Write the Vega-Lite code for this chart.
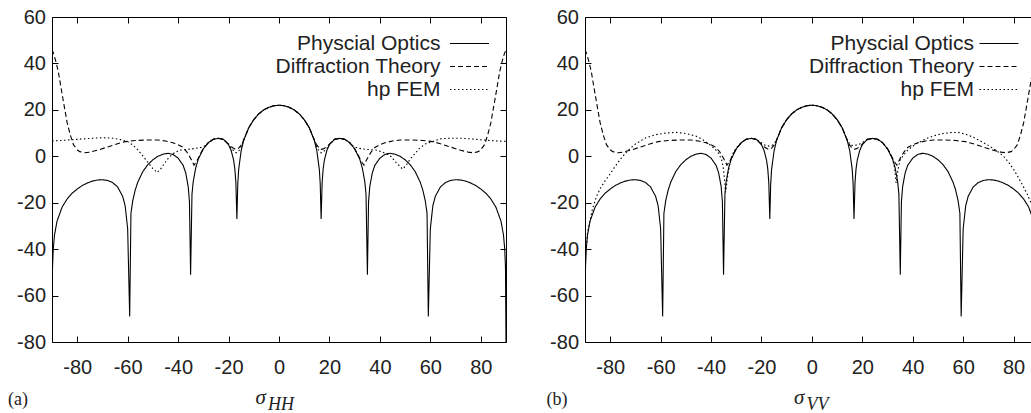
{
  "$schema": "https://vega.github.io/schema/vega-lite/v6.json",
  "padding": {"left": 7, "top": 7, "right": 0, "bottom": 0},
  "background": "white",
  "spacing": 39,
  "config": {
    "view": {"stroke": null},
    "axis": {"grid": false, "domainColor": "#000", "tickColor": "#000", "domainWidth": 1, "tickWidth": 1, "labelFont": "Liberation Sans", "labelFontSize": 20, "labelColor": "#222"}
  },
  "resolve": {"scale": {"strokeDash": "independent"}, "legend": {"strokeDash": "independent"}},
  "datasets": {
    "po": [
      {"series":"Physcial Optics","angle":-90,"level":-80},{"series":"Physcial Optics","angle":-89.8,"level":-48},{"series":"Physcial Optics","angle":-89.5,"level":-40},{"series":"Physcial Optics","angle":-89,"level":-33.9},{"series":"Physcial Optics","angle":-88,"level":-27.9},{"series":"Physcial Optics","angle":-86,"level":-21.9},{"series":"Physcial Optics","angle":-84,"level":-18.4},{"series":"Physcial Optics","angle":-82,"level":-15.9},{"series":"Physcial Optics","angle":-80,"level":-14.1},{"series":"Physcial Optics","angle":-78,"level":-12.6},{"series":"Physcial Optics","angle":-76,"level":-11.5},{"series":"Physcial Optics","angle":-74,"level":-10.7},{"series":"Physcial Optics","angle":-72,"level":-10.2},{"series":"Physcial Optics","angle":-70,"level":-10.1},{"series":"Physcial Optics","angle":-68,"level":-10.4},{"series":"Physcial Optics","angle":-66,"level":-11.3},{"series":"Physcial Optics","angle":-64,"level":-13.2},{"series":"Physcial Optics","angle":-62,"level":-17.2},{"series":"Physcial Optics","angle":-61,"level":-21.3},{"series":"Physcial Optics","angle":-60,"level":-31.2},{"series":"Physcial Optics","angle":-59.2,"level":-69},{"series":"Physcial Optics","angle":-58.7,"level":-24.6},{"series":"Physcial Optics","angle":-58,"level":-19.2},{"series":"Physcial Optics","angle":-57,"level":-14.5},{"series":"Physcial Optics","angle":-56,"level":-11.2},{"series":"Physcial Optics","angle":-54,"level":-6.6},{"series":"Physcial Optics","angle":-52,"level":-3.6},{"series":"Physcial Optics","angle":-50,"level":-1.5},{"series":"Physcial Optics","angle":-48,"level":0.0},{"series":"Physcial Optics","angle":-46,"level":0.9},{"series":"Physcial Optics","angle":-44,"level":1.3},{"series":"Physcial Optics","angle":-42,"level":0.8},{"series":"Physcial Optics","angle":-40,"level":-0.8},{"series":"Physcial Optics","angle":-38,"level":-3.9},{"series":"Physcial Optics","angle":-37,"level":-7.1},{"series":"Physcial Optics","angle":-36,"level":-13.0},{"series":"Physcial Optics","angle":-35.5,"level":-19.7},{"series":"Physcial Optics","angle":-35.05,"level":-51},{"series":"Physcial Optics","angle":-34.5,"level":-16.3},{"series":"Physcial Optics","angle":-34,"level":-10.8},{"series":"Physcial Optics","angle":-33,"level":-4.9},{"series":"Physcial Optics","angle":-32,"level":-1.2},{"series":"Physcial Optics","angle":-30,"level":3.2},{"series":"Physcial Optics","angle":-28,"level":5.9},{"series":"Physcial Optics","angle":-26,"level":7.4},{"series":"Physcial Optics","angle":-24,"level":7.7},{"series":"Physcial Optics","angle":-22,"level":7.3},{"series":"Physcial Optics","angle":-20,"level":5.0},{"series":"Physcial Optics","angle":-19,"level":2.6},{"series":"Physcial Optics","angle":-18,"level":-1.6},{"series":"Physcial Optics","angle":-17.5,"level":-5.5},{"series":"Physcial Optics","angle":-17.1,"level":-11.3},{"series":"Physcial Optics","angle":-16.7,"level":-27},{"series":"Physcial Optics","angle":-16.35,"level":-12.0},{"series":"Physcial Optics","angle":-16,"level":-5.8},{"series":"Physcial Optics","angle":-15,"level":2.4},{"series":"Physcial Optics","angle":-14,"level":6.9},{"series":"Physcial Optics","angle":-12,"level":12.3},{"series":"Physcial Optics","angle":-10,"level":15.8},{"series":"Physcial Optics","angle":-8,"level":18.3},{"series":"Physcial Optics","angle":-6,"level":20.0},{"series":"Physcial Optics","angle":-4,"level":21.1},{"series":"Physcial Optics","angle":-2,"level":21.8},{"series":"Physcial Optics","angle":0,"level":22.0},{"series":"Physcial Optics","angle":2,"level":21.8},{"series":"Physcial Optics","angle":4,"level":21.1},{"series":"Physcial Optics","angle":6,"level":20.0},{"series":"Physcial Optics","angle":8,"level":18.3},{"series":"Physcial Optics","angle":10,"level":15.8},{"series":"Physcial Optics","angle":12,"level":12.3},{"series":"Physcial Optics","angle":14,"level":6.9},{"series":"Physcial Optics","angle":15,"level":2.4},{"series":"Physcial Optics","angle":16,"level":-5.8},{"series":"Physcial Optics","angle":16.35,"level":-12.0},{"series":"Physcial Optics","angle":16.7,"level":-27},{"series":"Physcial Optics","angle":17.1,"level":-11.3},{"series":"Physcial Optics","angle":17.5,"level":-5.5},{"series":"Physcial Optics","angle":18,"level":-1.6},{"series":"Physcial Optics","angle":19,"level":2.6},{"series":"Physcial Optics","angle":20,"level":5.0},{"series":"Physcial Optics","angle":22,"level":7.3},{"series":"Physcial Optics","angle":24,"level":7.7},{"series":"Physcial Optics","angle":26,"level":7.4},{"series":"Physcial Optics","angle":28,"level":5.9},{"series":"Physcial Optics","angle":30,"level":3.2},{"series":"Physcial Optics","angle":32,"level":-1.2},{"series":"Physcial Optics","angle":33,"level":-4.9},{"series":"Physcial Optics","angle":34,"level":-10.8},{"series":"Physcial Optics","angle":34.5,"level":-16.3},{"series":"Physcial Optics","angle":35.05,"level":-51},{"series":"Physcial Optics","angle":35.5,"level":-19.7},{"series":"Physcial Optics","angle":36,"level":-13.0},{"series":"Physcial Optics","angle":37,"level":-7.1},{"series":"Physcial Optics","angle":38,"level":-3.9},{"series":"Physcial Optics","angle":40,"level":-0.8},{"series":"Physcial Optics","angle":42,"level":0.8},{"series":"Physcial Optics","angle":44,"level":1.3},{"series":"Physcial Optics","angle":46,"level":0.9},{"series":"Physcial Optics","angle":48,"level":0.0},{"series":"Physcial Optics","angle":50,"level":-1.5},{"series":"Physcial Optics","angle":52,"level":-3.6},{"series":"Physcial Optics","angle":54,"level":-6.6},{"series":"Physcial Optics","angle":56,"level":-11.2},{"series":"Physcial Optics","angle":57,"level":-14.5},{"series":"Physcial Optics","angle":58,"level":-19.2},{"series":"Physcial Optics","angle":58.7,"level":-24.6},{"series":"Physcial Optics","angle":59.2,"level":-69},{"series":"Physcial Optics","angle":60,"level":-31.2},{"series":"Physcial Optics","angle":61,"level":-21.3},{"series":"Physcial Optics","angle":62,"level":-17.2},{"series":"Physcial Optics","angle":64,"level":-13.2},{"series":"Physcial Optics","angle":66,"level":-11.3},{"series":"Physcial Optics","angle":68,"level":-10.4},{"series":"Physcial Optics","angle":70,"level":-10.1},{"series":"Physcial Optics","angle":72,"level":-10.2},{"series":"Physcial Optics","angle":74,"level":-10.7},{"series":"Physcial Optics","angle":76,"level":-11.5},{"series":"Physcial Optics","angle":78,"level":-12.6},{"series":"Physcial Optics","angle":80,"level":-14.1},{"series":"Physcial Optics","angle":82,"level":-15.9},{"series":"Physcial Optics","angle":84,"level":-18.4},{"series":"Physcial Optics","angle":86,"level":-21.9},{"series":"Physcial Optics","angle":88,"level":-27.9},{"series":"Physcial Optics","angle":89,"level":-33.9},{"series":"Physcial Optics","angle":89.5,"level":-40},{"series":"Physcial Optics","angle":89.8,"level":-48},{"series":"Physcial Optics","angle":90,"level":-80}
    ],
    "dt": [
      {"series":"Diffraction Theory","angle":-90,"level":46.0},{"series":"Diffraction Theory","angle":-89.3,"level":44.0},{"series":"Diffraction Theory","angle":-88.5,"level":41.0},{"series":"Diffraction Theory","angle":-87.5,"level":36.5},{"series":"Diffraction Theory","angle":-86.5,"level":30.0},{"series":"Diffraction Theory","angle":-85.3,"level":22.5},{"series":"Diffraction Theory","angle":-84,"level":14.5},{"series":"Diffraction Theory","angle":-82.7,"level":9.0},{"series":"Diffraction Theory","angle":-81.5,"level":5.0},{"series":"Diffraction Theory","angle":-80,"level":2.8},{"series":"Diffraction Theory","angle":-79,"level":2.0},{"series":"Diffraction Theory","angle":-77,"level":1.5},{"series":"Diffraction Theory","angle":-75,"level":1.8},{"series":"Diffraction Theory","angle":-72,"level":2.6},{"series":"Diffraction Theory","angle":-68,"level":4.0},{"series":"Diffraction Theory","angle":-64,"level":5.4},{"series":"Diffraction Theory","angle":-61,"level":6.3},{"series":"Diffraction Theory","angle":-57,"level":6.8},{"series":"Diffraction Theory","angle":-53,"level":7.0},{"series":"Diffraction Theory","angle":-48,"level":7.0},{"series":"Diffraction Theory","angle":-45,"level":6.6},{"series":"Diffraction Theory","angle":-42,"level":5.8},{"series":"Diffraction Theory","angle":-40,"level":5.0},{"series":"Diffraction Theory","angle":-38,"level":3.8},{"series":"Diffraction Theory","angle":-36.5,"level":1.8},{"series":"Diffraction Theory","angle":-35.5,"level":0.0},{"series":"Diffraction Theory","angle":-34.5,"level":-2.0},{"series":"Diffraction Theory","angle":-33.7,"level":-3.8},{"series":"Diffraction Theory","angle":-33,"level":-2.8},{"series":"Diffraction Theory","angle":-32,"level":-0.8},{"series":"Diffraction Theory","angle":-31,"level":1.4},{"series":"Diffraction Theory","angle":-30,"level":3.2},{"series":"Diffraction Theory","angle":-28,"level":5.9},{"series":"Diffraction Theory","angle":-26,"level":7.3},{"series":"Diffraction Theory","angle":-24,"level":7.7},{"series":"Diffraction Theory","angle":-22,"level":7.3},{"series":"Diffraction Theory","angle":-20,"level":5.2},{"series":"Diffraction Theory","angle":-19,"level":4.1},{"series":"Diffraction Theory","angle":-18,"level":3.5},{"series":"Diffraction Theory","angle":-17.5,"level":3.2},{"series":"Diffraction Theory","angle":-16.7,"level":3.0},{"series":"Diffraction Theory","angle":-16,"level":3.5},{"series":"Diffraction Theory","angle":-15,"level":4.8},{"series":"Diffraction Theory","angle":-14,"level":7.0},{"series":"Diffraction Theory","angle":-12,"level":12.3},{"series":"Diffraction Theory","angle":-10,"level":15.8},{"series":"Diffraction Theory","angle":-8,"level":18.3},{"series":"Diffraction Theory","angle":-6,"level":20.0},{"series":"Diffraction Theory","angle":-4,"level":21.1},{"series":"Diffraction Theory","angle":-2,"level":21.8},{"series":"Diffraction Theory","angle":0,"level":22.0},{"series":"Diffraction Theory","angle":2,"level":21.8},{"series":"Diffraction Theory","angle":4,"level":21.1},{"series":"Diffraction Theory","angle":6,"level":20.0},{"series":"Diffraction Theory","angle":8,"level":18.3},{"series":"Diffraction Theory","angle":10,"level":15.8},{"series":"Diffraction Theory","angle":12,"level":12.3},{"series":"Diffraction Theory","angle":14,"level":7.0},{"series":"Diffraction Theory","angle":15,"level":4.8},{"series":"Diffraction Theory","angle":16,"level":3.5},{"series":"Diffraction Theory","angle":16.7,"level":3.0},{"series":"Diffraction Theory","angle":17.5,"level":3.2},{"series":"Diffraction Theory","angle":18,"level":3.5},{"series":"Diffraction Theory","angle":19,"level":4.1},{"series":"Diffraction Theory","angle":20,"level":5.2},{"series":"Diffraction Theory","angle":22,"level":7.3},{"series":"Diffraction Theory","angle":24,"level":7.7},{"series":"Diffraction Theory","angle":26,"level":7.3},{"series":"Diffraction Theory","angle":28,"level":5.9},{"series":"Diffraction Theory","angle":30,"level":3.2},{"series":"Diffraction Theory","angle":31,"level":1.4},{"series":"Diffraction Theory","angle":32,"level":-0.8},{"series":"Diffraction Theory","angle":33,"level":-2.8},{"series":"Diffraction Theory","angle":33.7,"level":-3.8},{"series":"Diffraction Theory","angle":34.5,"level":-2.0},{"series":"Diffraction Theory","angle":35.5,"level":0.0},{"series":"Diffraction Theory","angle":36.5,"level":1.8},{"series":"Diffraction Theory","angle":38,"level":3.8},{"series":"Diffraction Theory","angle":40,"level":5.0},{"series":"Diffraction Theory","angle":42,"level":5.8},{"series":"Diffraction Theory","angle":45,"level":6.6},{"series":"Diffraction Theory","angle":48,"level":7.0},{"series":"Diffraction Theory","angle":53,"level":7.0},{"series":"Diffraction Theory","angle":57,"level":6.8},{"series":"Diffraction Theory","angle":61,"level":6.3},{"series":"Diffraction Theory","angle":64,"level":5.4},{"series":"Diffraction Theory","angle":68,"level":4.0},{"series":"Diffraction Theory","angle":72,"level":2.6},{"series":"Diffraction Theory","angle":75,"level":1.8},{"series":"Diffraction Theory","angle":77,"level":1.5},{"series":"Diffraction Theory","angle":79,"level":2.0},{"series":"Diffraction Theory","angle":80,"level":2.8},{"series":"Diffraction Theory","angle":81.5,"level":5.0},{"series":"Diffraction Theory","angle":82.7,"level":9.0},{"series":"Diffraction Theory","angle":84,"level":14.5},{"series":"Diffraction Theory","angle":85.3,"level":22.5},{"series":"Diffraction Theory","angle":86.5,"level":30.0},{"series":"Diffraction Theory","angle":87.5,"level":36.5},{"series":"Diffraction Theory","angle":88.5,"level":41.0},{"series":"Diffraction Theory","angle":89.3,"level":44.0},{"series":"Diffraction Theory","angle":90,"level":46.0}
    ],
    "fem_hh": [
      {"series":"hp FEM","angle":-90,"level":6.6},{"series":"hp FEM","angle":-85,"level":6.9},{"series":"hp FEM","angle":-80,"level":7.3},{"series":"hp FEM","angle":-75,"level":7.7},{"series":"hp FEM","angle":-70,"level":8.0},{"series":"hp FEM","angle":-66,"level":7.8},{"series":"hp FEM","angle":-63,"level":7.2},{"series":"hp FEM","angle":-60,"level":6.3},{"series":"hp FEM","angle":-58,"level":4.9},{"series":"hp FEM","angle":-56,"level":2.8},{"series":"hp FEM","angle":-54,"level":0.2},{"series":"hp FEM","angle":-52,"level":-2.6},{"series":"hp FEM","angle":-50,"level":-5.3},{"series":"hp FEM","angle":-48.3,"level":-7.0},{"series":"hp FEM","angle":-47,"level":-5.6},{"series":"hp FEM","angle":-45.5,"level":-3.2},{"series":"hp FEM","angle":-43.6,"level":-0.4},{"series":"hp FEM","angle":-41.5,"level":1.5},{"series":"hp FEM","angle":-39.5,"level":2.6},{"series":"hp FEM","angle":-36,"level":3.0},{"series":"hp FEM","angle":-33,"level":3.4},{"series":"hp FEM","angle":-31,"level":3.8},{"series":"hp FEM","angle":-29.5,"level":4.4},{"series":"hp FEM","angle":-28,"level":5.9},{"series":"hp FEM","angle":-26,"level":7.3},{"series":"hp FEM","angle":-24,"level":7.7},{"series":"hp FEM","angle":-22,"level":7.3},{"series":"hp FEM","angle":-20,"level":5.1},{"series":"hp FEM","angle":-19,"level":3.5},{"series":"hp FEM","angle":-18,"level":2.4},{"series":"hp FEM","angle":-17.2,"level":1.6},{"series":"hp FEM","angle":-16.7,"level":1.5},{"series":"hp FEM","angle":-16.2,"level":2.0},{"series":"hp FEM","angle":-15.5,"level":3.0},{"series":"hp FEM","angle":-15,"level":4.0},{"series":"hp FEM","angle":-14,"level":7.0},{"series":"hp FEM","angle":-12,"level":12.3},{"series":"hp FEM","angle":-10,"level":15.8},{"series":"hp FEM","angle":-8,"level":18.3},{"series":"hp FEM","angle":-6,"level":20.0},{"series":"hp FEM","angle":-4,"level":21.1},{"series":"hp FEM","angle":-2,"level":21.8},{"series":"hp FEM","angle":0,"level":22.0},{"series":"hp FEM","angle":2,"level":21.8},{"series":"hp FEM","angle":4,"level":21.1},{"series":"hp FEM","angle":6,"level":20.0},{"series":"hp FEM","angle":8,"level":18.3},{"series":"hp FEM","angle":10,"level":15.8},{"series":"hp FEM","angle":12,"level":12.3},{"series":"hp FEM","angle":14,"level":7.0},{"series":"hp FEM","angle":15,"level":4.0},{"series":"hp FEM","angle":15.5,"level":3.0},{"series":"hp FEM","angle":16.2,"level":2.0},{"series":"hp FEM","angle":16.7,"level":1.5},{"series":"hp FEM","angle":17.2,"level":1.6},{"series":"hp FEM","angle":18,"level":2.4},{"series":"hp FEM","angle":19,"level":3.5},{"series":"hp FEM","angle":20,"level":5.1},{"series":"hp FEM","angle":22,"level":7.3},{"series":"hp FEM","angle":24,"level":7.7},{"series":"hp FEM","angle":26,"level":7.3},{"series":"hp FEM","angle":28,"level":5.9},{"series":"hp FEM","angle":29.5,"level":4.4},{"series":"hp FEM","angle":31,"level":3.6},{"series":"hp FEM","angle":34,"level":3.0},{"series":"hp FEM","angle":38.5,"level":2.7},{"series":"hp FEM","angle":41,"level":1.8},{"series":"hp FEM","angle":43,"level":0.9},{"series":"hp FEM","angle":44.5,"level":-0.2},{"series":"hp FEM","angle":46.5,"level":-2.8},{"series":"hp FEM","angle":49,"level":-5.5},{"series":"hp FEM","angle":50.5,"level":-3.8},{"series":"hp FEM","angle":52,"level":-1.2},{"series":"hp FEM","angle":54,"level":1.3},{"series":"hp FEM","angle":55.7,"level":3.4},{"series":"hp FEM","angle":58,"level":5.3},{"series":"hp FEM","angle":61,"level":6.4},{"series":"hp FEM","angle":64,"level":7.5},{"series":"hp FEM","angle":68,"level":7.8},{"series":"hp FEM","angle":72,"level":7.8},{"series":"hp FEM","angle":76,"level":7.5},{"series":"hp FEM","angle":80,"level":7.1},{"series":"hp FEM","angle":85,"level":6.7},{"series":"hp FEM","angle":90,"level":6.4}
    ],
    "fem_vv": [
      {"series":"hp FEM","angle":-90,"level":-44},{"series":"hp FEM","angle":-89.5,"level":-39},{"series":"hp FEM","angle":-89,"level":-33},{"series":"hp FEM","angle":-88,"level":-27.5},{"series":"hp FEM","angle":-87,"level":-22.5},{"series":"hp FEM","angle":-85.5,"level":-17.5},{"series":"hp FEM","angle":-84,"level":-14},{"series":"hp FEM","angle":-82,"level":-10.5},{"series":"hp FEM","angle":-80,"level":-7.5},{"series":"hp FEM","angle":-78,"level":-4.3},{"series":"hp FEM","angle":-76,"level":-1.3},{"series":"hp FEM","angle":-73,"level":2.5},{"series":"hp FEM","angle":-70,"level":5.3},{"series":"hp FEM","angle":-66,"level":7.9},{"series":"hp FEM","angle":-62,"level":9.3},{"series":"hp FEM","angle":-58,"level":10.0},{"series":"hp FEM","angle":-54,"level":10.3},{"series":"hp FEM","angle":-50,"level":9.8},{"series":"hp FEM","angle":-46,"level":8.7},{"series":"hp FEM","angle":-44,"level":7.6},{"series":"hp FEM","angle":-42,"level":6.2},{"series":"hp FEM","angle":-40,"level":4.6},{"series":"hp FEM","angle":-38.5,"level":3.2},{"series":"hp FEM","angle":-37,"level":1.3},{"series":"hp FEM","angle":-35.8,"level":-1.5},{"series":"hp FEM","angle":-35,"level":-6.0},{"series":"hp FEM","angle":-34.2,"level":-15.5},{"series":"hp FEM","angle":-33.3,"level":-7.5},{"series":"hp FEM","angle":-32.3,"level":-1.5},{"series":"hp FEM","angle":-31,"level":2.0},{"series":"hp FEM","angle":-30,"level":3.6},{"series":"hp FEM","angle":-28,"level":5.9},{"series":"hp FEM","angle":-26,"level":7.3},{"series":"hp FEM","angle":-24,"level":7.7},{"series":"hp FEM","angle":-22,"level":7.3},{"series":"hp FEM","angle":-20,"level":5.8},{"series":"hp FEM","angle":-19,"level":5.0},{"series":"hp FEM","angle":-18,"level":4.6},{"series":"hp FEM","angle":-17,"level":4.4},{"series":"hp FEM","angle":-16,"level":4.6},{"series":"hp FEM","angle":-15,"level":5.3},{"series":"hp FEM","angle":-14,"level":7.0},{"series":"hp FEM","angle":-12,"level":12.3},{"series":"hp FEM","angle":-10,"level":15.8},{"series":"hp FEM","angle":-8,"level":18.3},{"series":"hp FEM","angle":-6,"level":20.0},{"series":"hp FEM","angle":-4,"level":21.1},{"series":"hp FEM","angle":-2,"level":21.8},{"series":"hp FEM","angle":0,"level":22.0},{"series":"hp FEM","angle":2,"level":21.8},{"series":"hp FEM","angle":4,"level":21.1},{"series":"hp FEM","angle":6,"level":20.0},{"series":"hp FEM","angle":8,"level":18.3},{"series":"hp FEM","angle":10,"level":15.8},{"series":"hp FEM","angle":12,"level":12.3},{"series":"hp FEM","angle":14,"level":7.0},{"series":"hp FEM","angle":15,"level":5.3},{"series":"hp FEM","angle":16,"level":4.7},{"series":"hp FEM","angle":16.7,"level":4.6},{"series":"hp FEM","angle":17.5,"level":4.8},{"series":"hp FEM","angle":18,"level":5.0},{"series":"hp FEM","angle":19,"level":5.3},{"series":"hp FEM","angle":20,"level":5.9},{"series":"hp FEM","angle":22,"level":7.3},{"series":"hp FEM","angle":24,"level":7.7},{"series":"hp FEM","angle":26,"level":7.3},{"series":"hp FEM","angle":28,"level":5.9},{"series":"hp FEM","angle":30,"level":3.2},{"series":"hp FEM","angle":31,"level":1.0},{"series":"hp FEM","angle":32,"level":-1.2},{"series":"hp FEM","angle":32.8,"level":-5.0},{"series":"hp FEM","angle":33.4,"level":-11.5},{"series":"hp FEM","angle":34.2,"level":-5.5},{"series":"hp FEM","angle":35,"level":-1.5},{"series":"hp FEM","angle":36.6,"level":0.8},{"series":"hp FEM","angle":38,"level":2.6},{"series":"hp FEM","angle":40,"level":4.4},{"series":"hp FEM","angle":42,"level":5.7},{"series":"hp FEM","angle":44,"level":6.9},{"series":"hp FEM","angle":46,"level":7.9},{"series":"hp FEM","angle":49,"level":9.0},{"series":"hp FEM","angle":52,"level":9.8},{"series":"hp FEM","angle":55,"level":10.2},{"series":"hp FEM","angle":58,"level":10.3},{"series":"hp FEM","angle":61,"level":9.5},{"series":"hp FEM","angle":64,"level":8.2},{"series":"hp FEM","angle":67,"level":6.5},{"series":"hp FEM","angle":70,"level":4.7},{"series":"hp FEM","angle":74,"level":1.8},{"series":"hp FEM","angle":76,"level":0.0},{"series":"hp FEM","angle":78,"level":-2.5},{"series":"hp FEM","angle":80,"level":-5.6},{"series":"hp FEM","angle":81.7,"level":-8.8},{"series":"hp FEM","angle":83.5,"level":-12.3},{"series":"hp FEM","angle":85.5,"level":-16.5},{"series":"hp FEM","angle":87.4,"level":-21.5},{"series":"hp FEM","angle":88.5,"level":-27},{"series":"hp FEM","angle":89.3,"level":-34},{"series":"hp FEM","angle":90,"level":-44}
    ]
  },
  "hconcat": [
    {
      "width": 454,
      "height": 325,
      "layer": [
        {
          "data": {"name": "po"},
          "mark": {"type": "line", "color": "black", "strokeWidth": 1.1, "clip": true},
          "encoding": {
            "x": {"field": "angle", "type": "quantitative", "scale": {"domain": [-90, 90], "nice": false, "zero": false},
              "axis": {"orient": "bottom", "values": [-80,-60,-40,-20,0,20,40,60,80], "ticks": false, "tickSize": 0, "labelPadding": 15, "labelExpr": "replace(datum.label, '−', '-')", "title": "σ", "titleFont": "Liberation Serif", "titleFontStyle": "italic", "titleFontWeight": "normal", "titleFontSize": 21, "titleColor": "#222", "titleAlign": "left", "titleBaseline": "alphabetic", "titleX": 203, "titleY": 61}},
            "y": {"field": "level", "type": "quantitative", "scale": {"domain": [-80, 60], "nice": false, "zero": false},
              "axis": {"orient": "left", "values": [-80,-60,-40,-20,0,20,40,60], "ticks": false, "tickSize": 0, "labelPadding": 6.5, "labelExpr": "replace(datum.label, '−', '-')", "title": "(a)", "titleAngle": 0, "titleFont": "Liberation Serif", "titleFontWeight": "normal", "titleFontSize": 18, "titleColor": "#222", "titleAlign": "left", "titleBaseline": "alphabetic", "titleX": -44.5, "titleY": 387}},
            "strokeDash": {"field": "series", "type": "nominal", "scale": {"domain": ["Physcial Optics", "Diffraction Theory", "hp FEM"], "range": [[1, 0], [5, 3], [1.5, 2.5]]},
              "legend": {"orient": "none", "legendX": 406.5, "legendY": 15.5, "title": null, "symbolType": "M-1.95,0H1.95", "symbolSize": 400, "symbolStrokeWidth": 1.1, "symbolStrokeColor": "black", "symbolFillColor": "transparent", "labelAlign": "right", "labelOffset": -40, "labelLimit": 300, "labelFont": "Liberation Sans", "labelFontSize": 21, "labelColor": "#222", "rowPadding": 2, "padding": 0}}
          }
        },
        {
          "data": {"name": "dt"},
          "mark": {"type": "line", "color": "black", "strokeWidth": 1.1, "clip": true},
          "encoding": {
            "x": {"field": "angle", "type": "quantitative", "scale": {"domain": [-90, 90], "nice": false, "zero": false},
              "axis": {"orient": "top", "offset": -325, "values": [-80,-60,-40,-20,0,20,40,60,80], "labels": false, "domain": false, "tickSize": 6, "title": null}},
            "y": {"field": "level", "type": "quantitative", "scale": {"domain": [-80, 60], "nice": false, "zero": false},
              "axis": {"orient": "right", "offset": -454, "values": [-80,-60,-40,-20,0,20,40,60], "labels": false, "domain": false, "tickSize": 6, "title": null}},
            "strokeDash": {"field": "series", "type": "nominal", "scale": {"domain": ["Physcial Optics", "Diffraction Theory", "hp FEM"], "range": [[1, 0], [5, 3], [1.5, 2.5]]}}
          }
        },
        {
          "data": {"name": "fem_hh"},
          "mark": {"type": "line", "color": "black", "strokeWidth": 1.1, "clip": true},
          "encoding": {
            "x": {"field": "angle", "type": "quantitative", "scale": {"domain": [-90, 90], "nice": false, "zero": false},
              "axis": {"orient": "bottom", "offset": -325, "values": [-80,-60,-40,-20,0,20,40,60,80], "labels": false, "domain": true, "tickSize": 6, "title": "HH", "titleFont": "Liberation Serif", "titleFontStyle": "italic", "titleFontWeight": "normal", "titleFontSize": 18, "titleColor": "#222", "titleAlign": "left", "titleBaseline": "alphabetic", "titleX": 215.5, "titleY": 392}},
            "y": {"field": "level", "type": "quantitative", "scale": {"domain": [-80, 60], "nice": false, "zero": false},
              "axis": {"orient": "left", "offset": -454, "values": [-80,-60,-40,-20,0,20,40,60], "labels": false, "domain": true, "tickSize": 6, "title": null}},
            "strokeDash": {"field": "series", "type": "nominal", "scale": {"domain": ["Physcial Optics", "Diffraction Theory", "hp FEM"], "range": [[1, 0], [5, 3], [1.5, 2.5]]}}
          }
        }
      ],
      "resolve": {"axis": {"x": "independent", "y": "independent"}}
    },
    {
      "width": 447,
      "height": 325,
      "layer": [
        {
          "data": {"name": "po"},
          "mark": {"type": "line", "color": "black", "strokeWidth": 1.1, "clip": true},
          "encoding": {
            "x": {"field": "angle", "type": "quantitative", "scale": {"domain": [-90, 87.3], "nice": false, "zero": false},
              "axis": {"orient": "bottom", "values": [-80,-60,-40,-20,0,20,40,60,80], "ticks": false, "tickSize": 0, "labelPadding": 15, "labelExpr": "replace(datum.label, '−', '-')", "title": "σ", "titleFont": "Liberation Serif", "titleFontStyle": "italic", "titleFontWeight": "normal", "titleFontSize": 21, "titleColor": "#222", "titleAlign": "left", "titleBaseline": "alphabetic", "titleX": 208.5, "titleY": 61}},
            "y": {"field": "level", "type": "quantitative", "scale": {"domain": [-80, 60], "nice": false, "zero": false},
              "axis": {"orient": "left", "values": [-80,-60,-40,-20,0,20,40,60], "ticks": false, "tickSize": 0, "labelPadding": 6.5, "labelExpr": "replace(datum.label, '−', '-')", "title": "(b)", "titleAngle": 0, "titleFont": "Liberation Serif", "titleFontWeight": "normal", "titleFontSize": 18, "titleColor": "#222", "titleAlign": "left", "titleBaseline": "alphabetic", "titleX": -39, "titleY": 387}},
            "strokeDash": {"field": "series", "type": "nominal", "scale": {"domain": ["Physcial Optics", "Diffraction Theory", "hp FEM"], "range": [[1, 0], [5, 3], [1.5, 2.5]]},
              "legend": {"orient": "none", "legendX": 403, "legendY": 15.5, "title": null, "symbolType": "M-1.95,0H1.95", "symbolSize": 400, "symbolStrokeWidth": 1.1, "symbolStrokeColor": "black", "symbolFillColor": "transparent", "labelAlign": "right", "labelOffset": -36, "labelLimit": 300, "labelFont": "Liberation Sans", "labelFontSize": 21, "labelColor": "#222", "rowPadding": 2, "padding": 0}}
          }
        },
        {
          "data": {"name": "dt"},
          "mark": {"type": "line", "color": "black", "strokeWidth": 1.1, "clip": true},
          "encoding": {
            "x": {"field": "angle", "type": "quantitative", "scale": {"domain": [-90, 87.3], "nice": false, "zero": false},
              "axis": {"orient": "top", "offset": -325, "values": [-80,-60,-40,-20,0,20,40,60,80], "labels": false, "domain": false, "tickSize": 6, "title": null}},
            "y": {"field": "level", "type": "quantitative", "scale": {"domain": [-80, 60], "nice": false, "zero": false},
              "axis": {"orient": "right", "offset": -447, "values": [-80,-60,-40,-20,0,20,40,60], "labels": false, "domain": false, "tickSize": 6, "title": null}},
            "strokeDash": {"field": "series", "type": "nominal", "scale": {"domain": ["Physcial Optics", "Diffraction Theory", "hp FEM"], "range": [[1, 0], [5, 3], [1.5, 2.5]]}}
          }
        },
        {
          "data": {"name": "fem_vv"},
          "mark": {"type": "line", "color": "black", "strokeWidth": 1.1, "clip": true},
          "encoding": {
            "x": {"field": "angle", "type": "quantitative", "scale": {"domain": [-90, 87.3], "nice": false, "zero": false},
              "axis": {"orient": "bottom", "offset": -325, "values": [-80,-60,-40,-20,0,20,40,60,80], "labels": false, "domain": true, "tickSize": 6, "title": "VV", "titleFont": "Liberation Serif", "titleFontStyle": "italic", "titleFontWeight": "normal", "titleFontSize": 18, "titleColor": "#222", "titleAlign": "left", "titleBaseline": "alphabetic", "titleX": 221, "titleY": 392}},
            "y": {"field": "level", "type": "quantitative", "scale": {"domain": [-80, 60], "nice": false, "zero": false}, "axis": null},
            "strokeDash": {"field": "series", "type": "nominal", "scale": {"domain": ["Physcial Optics", "Diffraction Theory", "hp FEM"], "range": [[1, 0], [5, 3], [1.5, 2.5]]}}
          }
        }
      ],
      "resolve": {"axis": {"x": "independent", "y": "independent"}}
    }
  ]
}
